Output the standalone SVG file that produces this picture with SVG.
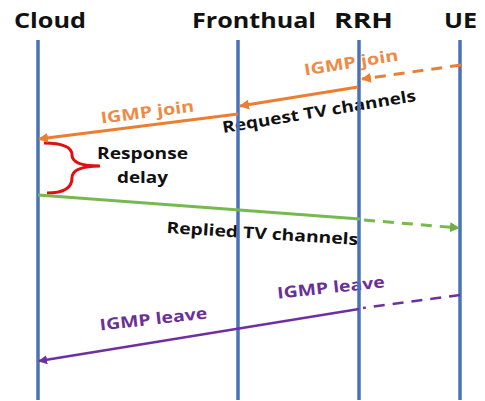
<svg xmlns="http://www.w3.org/2000/svg" width="485" height="401" viewBox="0 0 485 401">
  <style>
    text { font-family: "Open Sans", "Liberation Sans", sans-serif; font-weight: bold; }
    .head { font-size: 22px; fill: #111; }
    .lbl { font-size: 16px; text-anchor: middle; }
    .black { fill: #111; }
    .orange-t { fill: #ef8a45; }
    .purple-t { fill: #6a3098; }
    .life { stroke: #4a72b8; stroke-width: 3.5; }
    .orange { stroke: #ed7d31; stroke-width: 3; fill: none; }
    .green { stroke: #76b94e; stroke-width: 3; fill: none; }
    .purple { stroke: #6e30a0; stroke-width: 2.5; fill: none; }
    .dash { stroke-dasharray: 11 8; }
  </style>
  <defs>
    <marker id="ah-orange" viewBox="0 0 10 10" refX="9" refY="5" markerWidth="10" markerHeight="10" markerUnits="userSpaceOnUse" orient="auto">
      <path d="M0,0 L10,5 L0,10 z" fill="#ed7d31"/>
    </marker>
    <marker id="ah-green" viewBox="0 0 10 10" refX="9" refY="5" markerWidth="10" markerHeight="10" markerUnits="userSpaceOnUse" orient="auto">
      <path d="M0,0 L10,5 L0,10 z" fill="#70ad47"/>
    </marker>
    <marker id="ah-purple" viewBox="0 0 10 10" refX="9" refY="5" markerWidth="9" markerHeight="9" markerUnits="userSpaceOnUse" orient="auto">
      <path d="M0,0 L10,5 L0,10 z" fill="#6e30a0"/>
    </marker>
  </defs>

  <rect width="485" height="401" fill="#ffffff"/>

  <!-- message labels -->
  <g id="labels">
    <text class="lbl orange-t" transform="translate(352,68) rotate(-9)" textLength="95" lengthAdjust="spacingAndGlyphs">IGMP join</text>
    <text class="lbl orange-t" transform="translate(148,117.5) rotate(-7.4)" textLength="94" lengthAdjust="spacingAndGlyphs">IGMP join</text>
    <text class="lbl black" transform="translate(320,117) rotate(-9.4)" textLength="196" lengthAdjust="spacingAndGlyphs">Request TV channels</text>
    <text class="lbl black" transform="translate(262,239) rotate(3.6)" textLength="192" lengthAdjust="spacingAndGlyphs">Replied TV channels</text>
    <text class="lbl purple-t" transform="translate(331.5,293) rotate(-6)" textLength="108" lengthAdjust="spacingAndGlyphs">IGMP leave</text>
    <text class="lbl purple-t" transform="translate(154,324.5) rotate(-6.3)" textLength="108" lengthAdjust="spacingAndGlyphs">IGMP leave</text>
  </g>

  <!-- lifelines with their headers -->
  <g id="cloud">
    <text class="head" x="14" y="28" textLength="72" lengthAdjust="spacingAndGlyphs">Cloud</text>
    <line class="life" x1="38" y1="40" x2="38" y2="400"/>
  </g>
  <g id="fronthual">
    <text class="head" x="192" y="28" textLength="124" lengthAdjust="spacingAndGlyphs">Fronthual</text>
    <line class="life" x1="238" y1="40" x2="238" y2="400"/>
  </g>
  <g id="rrh">
    <text class="head" x="334" y="28" textLength="59" lengthAdjust="spacingAndGlyphs">RRH</text>
    <line class="life" x1="359" y1="40" x2="359" y2="400"/>
  </g>
  <g id="ue">
    <text class="head" x="444" y="28" textLength="33" lengthAdjust="spacingAndGlyphs">UE</text>
    <line class="life" x1="460" y1="40" x2="460" y2="400"/>
  </g>

  <!-- response delay brace -->
  <g id="response-delay">
    <path d="M44,143 Q72,143 72,155 Q72,166 100,166 Q72,166 72,178 Q72,193 47,193" fill="none" stroke="#e01010" stroke-width="3"/>
    <text class="lbl black" x="142.5" y="159" font-size="17" textLength="91" lengthAdjust="spacingAndGlyphs">Response</text>
    <text class="lbl black" x="142.5" y="183" font-size="17" textLength="51" lengthAdjust="spacingAndGlyphs">delay</text>
  </g>

  <!-- connectors -->
  <g id="connectors">
    <line class="orange dash" x1="461" y1="65" x2="362" y2="79" marker-end="url(#ah-orange)"/>
    <line class="orange" x1="358" y1="87" x2="240" y2="106" marker-end="url(#ah-orange)"/>
    <line class="orange" x1="238" y1="114" x2="39" y2="139" marker-end="url(#ah-orange)"/>

    <line class="green" x1="38" y1="195" x2="360" y2="219"/>
    <line class="green dash" x1="364" y1="220" x2="459" y2="228" stroke="#70ad47" marker-end="url(#ah-green)"/>

    <line class="purple dash" x1="460" y1="295" x2="363" y2="308"/>
    <line class="purple" x1="359" y1="309" x2="39" y2="361" marker-end="url(#ah-purple)"/>
  </g>
</svg>
